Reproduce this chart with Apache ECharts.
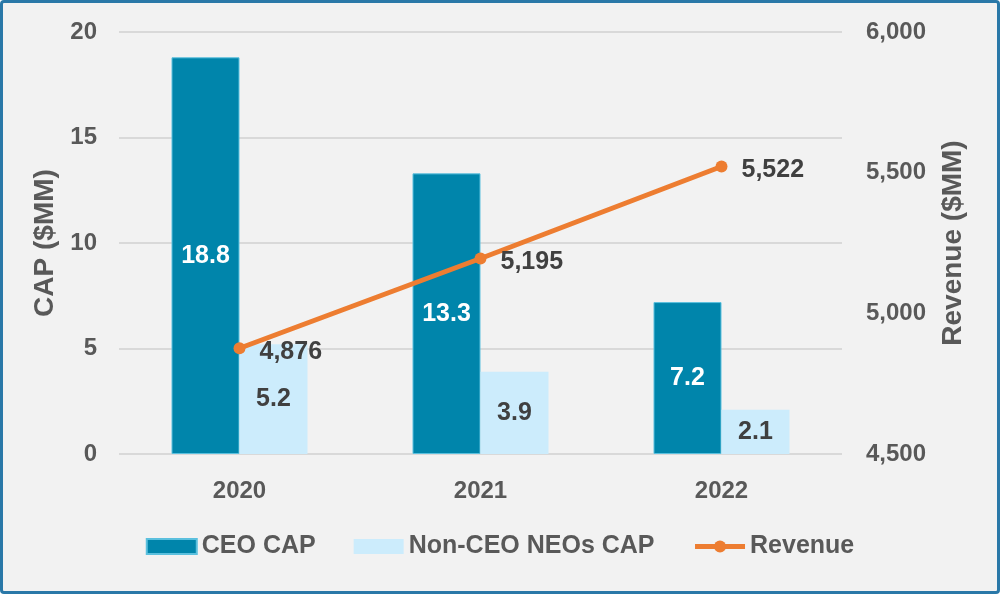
<!DOCTYPE html>
<html>
<head>
<meta charset="utf-8">
<script src="https://cdn.jsdelivr.net/npm/echarts@6/dist/echarts.min.js"></script>
<style>
html,body{margin:0;padding:0;background:#fff;}
#wrap{width:1000px;height:594px;box-sizing:border-box;border:3px solid #2A78A8;border-radius:4px;background:#F2F2F2;}
#chart{width:994px;height:588px;}
</style>
</head>
<body>
<div id="wrap"><div id="chart"></div></div>
<script>
var categories = ['2020', '2021', '2022'];
var ceoCap = [18.8, 13.3, 7.2];
var nonCeoCap = [5.2, 3.9, 2.1];
var revenue = [4876, 5195, 5522];

var txt = '#595959';
var font = '"Liberation Sans", Arial, sans-serif';
var chart = echarts.init(document.getElementById('chart'));
chart.setOption({
  backgroundColor: 'transparent',
  textStyle: {fontFamily: font},
  grid: {left: 116, right: 155, top: 29, bottom: 137},
  legend: {
    bottom: 27, left: 'center', itemGap: 38, itemWidth: 50, itemHeight: 15,
    textStyle: {color: txt, fontSize: 25, fontWeight: 'bold', fontFamily: font},
    data: [{name: 'CEO CAP', icon: 'rect'}, {name: 'Non-CEO NEOs CAP', icon: 'rect'},
      {name: 'Revenue', lineStyle: {width: 5}}]
  },
  xAxis: {
    type: 'category', data: categories,
    axisLine: {show: false}, axisTick: {show: false},
    axisLabel: {color: txt, fontSize: 24, fontWeight: 'bold', margin: 25, fontFamily: font}
  },
  yAxis: [{
    type: 'value', min: 0, max: 20, interval: 5,
    name: 'CAP ($MM)', nameLocation: 'middle', nameRotate: 90, nameGap: 58,
    nameTextStyle: {color: txt, fontSize: 28, fontWeight: 'bold', fontFamily: font},
    axisLabel: {color: txt, fontSize: 24, fontWeight: 'bold', margin: 22, fontFamily: font},
    splitLine: {lineStyle: {color: '#D9D9D9', width: 2}}
  }, {
    type: 'value', min: 4500, max: 6000, interval: 500,
    name: 'Revenue ($MM)', nameLocation: 'middle', nameRotate: 90, nameGap: 97,
    nameTextStyle: {color: txt, fontSize: 28, fontWeight: 'bold', fontFamily: font},
    axisLabel: {color: txt, fontSize: 24, fontWeight: 'bold', margin: 24, fontFamily: font,
      formatter: function(v){return v.toLocaleString('en-US');}},
    splitLine: {show: false}
  }],
  series: [{
    name: 'CEO CAP', type: 'bar', data: ceoCap, barWidth: 68, barGap: '0%',
    itemStyle: {color: '#0085AB', borderColor: '#5BC0DE', borderWidth: 1},
    label: {show: true, position: 'inside', color: '#fff', fontSize: 25, fontWeight: 'bold', fontFamily: font,
      formatter: function(p){return p.value.toFixed(1);}}
  }, {
    name: 'Non-CEO NEOs CAP', type: 'bar', data: nonCeoCap, barWidth: 68,
    itemStyle: {color: '#CCECFC'},
    label: {show: true, position: 'inside', color: '#404040', fontSize: 25, fontWeight: 'bold', fontFamily: font,
      formatter: function(p){return p.value.toFixed(1);}}
  }, {
    name: 'Revenue', type: 'line', yAxisIndex: 1, data: revenue,
    symbol: 'circle', symbolSize: 12,
    lineStyle: {color: '#ED7D31', width: 5}, itemStyle: {color: '#ED7D31'},
    label: {show: true, position: 'right', distance: 14, offset: [0, 4], color: '#404040', fontSize: 25, fontWeight: 'bold', fontFamily: font,
      formatter: function(p){return p.value.toLocaleString('en-US');}}
  }]
});
</script>
</body>
</html>
